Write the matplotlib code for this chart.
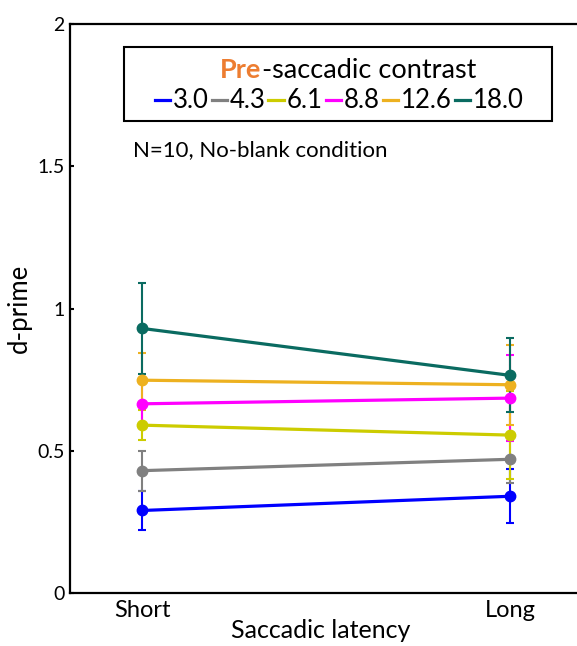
import numpy as np
import matplotlib.pyplot as plt
from matplotlib.lines import Line2D
from matplotlib.patches import Rectangle

plt.rcParams['font.family'] = ['Lato', 'DejaVu Sans']

latency = ['Short', 'Long']
contrast = ['3.0', '4.3', '6.1', '8.8', '12.6', '18.0']
dprime = [[0.29, 0.34],
          [0.43, 0.47],
          [0.59, 0.555],
          [0.665, 0.685],
          [0.748, 0.732],
          [0.93, 0.765]]
err = [[0.07, 0.095],
       [0.07, 0.085],
       [0.053, 0.155],
       [0.08, 0.15],
       [0.095, 0.14],
       [0.16, 0.13]]
cols = ['#0000ff', '#808080', '#cccc00', '#ff00ff', '#edb120', '#0a6b61']

W, H = 577, 646
fig = plt.figure(figsize=(W/100, H/100), dpi=100)
ax = fig.add_axes([70/W, 1-593/H, 530/W, 569/H])

x = np.arange(1, len(latency)+1)
for i in range(len(contrast)):
    ax.errorbar(x, dprime[i], yerr=err[i], fmt='none', ecolor=cols[i],
                elinewidth=1.5, capsize=3, capthick=1.5, zorder=2)
for i in range(len(contrast)):
    ax.plot(x, dprime[i], '-o', color=cols[i], lw=2.3, ms=7.5, zorder=3)

ax.set_xlim(1-72/368, 2+90/368)
ax.set_ylim(0, 2)
ax.set_yticks([0, 0.5, 1, 1.5, 2])
ax.set_yticklabels(['0', '0.5', '1', '1.5', '2'])
ax.set_xticks(x)
ax.set_xticklabels(latency)
ax.tick_params(axis='y', direction='in', length=3, width=1.5, labelsize=14, pad=4)
ax.tick_params(axis='x', length=0, labelsize=17, pad=5)
for s in ['left', 'bottom', 'top']:
    ax.spines[s].set_linewidth(1.6)
ax.spines['right'].set_visible(False)
ax.set_ylabel('d-prime', fontsize=18.5, labelpad=4)
ax.set_xlabel('Saccadic latency', fontsize=18)
ax.xaxis.set_label_coords((321-70)/530, -0.045, transform=ax.transAxes)
ax.xaxis.label.set_verticalalignment('top')

# legend box: frame, two-colour title, one row of entries
fig.add_artist(Rectangle((124/W, 1-121/H), 428/W, 74/H, transform=fig.transFigure,
                         facecolor='white', edgecolor='black', lw=1.5, zorder=4))
handles = [Line2D([], [], color=c, lw=2.3) for c in cols]
leg = fig.legend(handles, contrast, ncol=6, loc='center',
                 bbox_to_anchor=(339/W, 1-101/H), frameon=False,
                 fontsize=18.5, handlelength=0.6, handletextpad=0.1,
                 columnspacing=0.12, borderpad=0, borderaxespad=0)
leg.set_zorder(5)

fig.canvas.draw()
r = fig.canvas.get_renderer()
t1 = fig.text(0, 1-70/H, 'Pre', color='#ed7d31', fontsize=19.5,
              fontweight='bold', va='center', zorder=6)
t2 = fig.text(0, 1-70/H, '-saccadic contrast', color='black', fontsize=19.5,
              va='center', zorder=6)
w1 = t1.get_window_extent(r).width
w2 = t2.get_window_extent(r).width
x0 = 348 - (w1 + w2)/2
t1.set_x(x0/W)
t2.set_x((x0 + w1)/W)

fig.text(133/W, 1-150/H, 'N=10, No-blank condition', fontsize=16, va='center')

fig.savefig('out.png', dpi=100)
